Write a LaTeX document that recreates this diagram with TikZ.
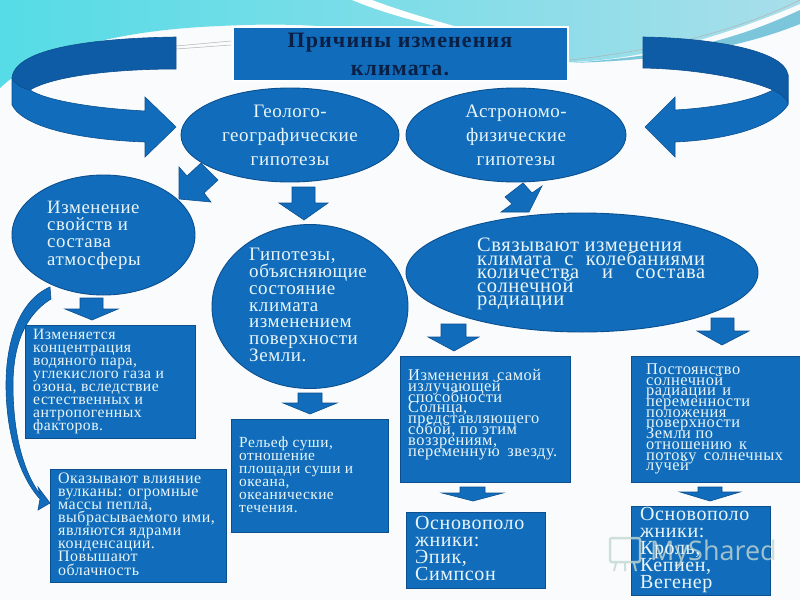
\documentclass[tikz,border=0pt]{standalone}
\usepackage{fontspec}
\setmainfont[LetterSpace=3]{Liberation Serif}
\newfontfamily\wmfont{Open Sans}
\usetikzlibrary{shapes.geometric}
\definecolor{fillblue}{HTML}{116DBB}
\definecolor{edgeblue}{HTML}{0B4F8F}
\definecolor{darkband}{HTML}{0E5CA6}
\definecolor{txt}{HTML}{E9F5F8}
\definecolor{titletxt}{HTML}{0A1F45}
\definecolor{paper}{HTML}{F9FBFC}
\definecolor{skyl}{HTML}{55DCE6}
\definecolor{skym}{HTML}{85BBCB}
\definecolor{skyr}{HTML}{A8DEEA}
\definecolor{streak}{HTML}{7CC6DC}
\definecolor{wmark}{HTML}{C4D8D2}
\tikzset{
  x=1pt,y=-1pt,
  blob/.style={ellipse,draw=edgeblue,line width=0.9pt,fill=fillblue,inner sep=0pt},
  panel/.style={rectangle,draw=edgeblue,line width=0.9pt,fill=fillblue,inner sep=0pt},
  blockarrow/.style={draw=edgeblue,line width=0.6pt,fill=fillblue,line join=miter},
  band/.style={draw=edgeblue,line width=0.6pt,fill=darkband},
  textblock/.style={text=txt,inner sep=0pt,anchor=west,align=left},
  centerblock/.style={text=txt,inner sep=0pt,align=center},
}
\newcommand{\fs}[2]{\fontsize{#1}{#2}\selectfont\lineskiplimit=-100pt\relax}
\newcommand{\jl}[2]{\makebox[#1pt][s]{#2}}
\begin{document}
\begin{tikzpicture}
\useasboundingbox (0,0) rectangle (800,600);
% background
\fill[paper] (0,0) rectangle (800,600);
\shade[left color=skyl,middle color=skym,right color=skyr]
  (0,0) -- (800,0) -- (800,4) .. controls (720,38) and (640,60) .. (570,62)
  .. controls (520,62) and (440,45) .. (360,30)
  .. controls (300,22) and (240,25) .. (220,26)
  .. controls (120,30) and (40,50) .. (0,88) -- cycle;
\fill[white] (352,0) -- (372,0) .. controls (420,18) and (470,30) .. (520,44) .. controls (460,32) and (400,20) .. (352,0) -- cycle;
\fill[streak] (800,10) .. controls (740,38) and (680,55) .. (570,63) .. controls (670,60) and (740,48) .. (800,24) -- cycle;
\draw[gray!60,line width=0.5pt] (176,46) -- (231,41);
\draw[gray!60,line width=0.5pt] (176,49) -- (231,45);
\draw[gray!60,line width=0.5pt] (570,60) .. controls (660,50) and (740,30) .. (800,0);
% ribbons
\path[band,fill=fillblue] (12,78) -- (12,105) .. controls (25,130) and (90,140) .. (145,142)
  -- (145,157) -- (176,127) -- (145,97) -- (145,111) .. controls (90,108) and (45,100) .. (30,90) -- cycle;
\path[band] (176,37) .. controls (110,38) and (15,45) .. (12,78) .. controls (15,85) and (22,88) .. (30,90)
  .. controls (55,75) and (120,69) .. (176,69) -- cycle;
\path[band,fill=fillblue] (788,75) -- (788,105) .. controls (770,130) and (720,140) .. (675,142)
  -- (675,157) -- (645,127) -- (675,97) -- (675,110) .. controls (710,108) and (750,102) .. (773,90) -- cycle;
\path[band] (643,37) .. controls (710,38) and (785,50) .. (788,75) -- (788,103) .. controls (786,98) and (780,93) .. (773,90)
  .. controls (745,78) and (695,69) .. (643,68) -- cycle;
% block arrows
\path[blockarrow] (201,163) -- (218,180) -- (204,193) -- (211,202) -- (179,199) -- (179,167) -- (187,176) -- cycle;
\path[blockarrow] (292,187) -- (315,187) -- (315,203) -- (328,203) -- (304,220) -- (279,203) -- (292,203) -- cycle;
\path[blockarrow] (523,183) -- (532,193) -- (542,186) -- (529,212) -- (501,212) -- (512,204) -- (505,197) -- cycle;
\path[blockarrow] (80,298) -- (103,298) -- (103,309) -- (118,309) -- (92,320) -- (65,309) -- (80,309) -- cycle;
\path[blockarrow] (298,393) -- (322,393) -- (322,403) -- (337,403) -- (310,414) -- (283,403) -- (298,403) -- cycle;
\path[blockarrow] (441,324) -- (466,324) -- (466,337) -- (479,337) -- (454,351) -- (428,337) -- (441,337) -- cycle;
\path[blockarrow] (711,318) -- (734,318) -- (734,331) -- (749,331) -- (722,345) -- (697,331) -- (711,331) -- cycle;
\path[blockarrow] (460,487) -- (485,487) -- (485,493) -- (503,493) -- (473,501) -- (442,493) -- (460,493) -- cycle;
\path[blockarrow] (698,487) -- (722,487) -- (722,492) -- (740,492) -- (710,501) -- (680,492) -- (698,492) -- cycle;
% curved arrow
\path[blockarrow] (50,287) .. controls (20,300) and (6,340) .. (6,385) .. controls (6,430) and (18,475) .. (40,499)
  -- (38,510) -- (50,503) -- (38,487) -- (40,494) .. controls (22,470) and (13,430) .. (13,385)
  .. controls (13,345) and (25,315) .. (51,299) -- cycle;
% title
\node[rectangle,draw=white,line width=2pt,fill=fillblue,minimum width=335pt,minimum height=54pt,inner sep=0pt] (title) at (400.5,53.5) {};
\node[inner sep=0pt,align=center,text=titletxt,font=\bfseries\addfontfeatures{LetterSpace=5}\fs{22}{28}] (titletext) at (400,54) {Причины изменения\\климата.};
% ellipses
\node[blob,minimum width=218pt,minimum height=94pt] (geo) at (290,135) {};
\node[blob,minimum width=220pt,minimum height=94pt] (astro) at (516,135) {};
\node[blob,minimum width=183pt,minimum height=120pt] (atm) at (103.5,235) {};
\node[blob,minimum width=196pt,minimum height=164pt] (hyp) at (310,306.5) {};
\node[blob,minimum width=352pt,minimum height=119pt] (sol) at (582,272.5) {};
% boxes
\node[panel,minimum width=170pt,minimum height=113pt] (boxa) at (110,381.5) {};
\node[panel,minimum width=176pt,minimum height=113pt] (boxb) at (138,525.5) {};
\node[panel,minimum width=157pt,minimum height=113pt] (boxc) at (309.5,475.5) {};
\node[panel,minimum width=170pt,minimum height=126pt] (boxd) at (485,419) {};
\node[panel,minimum width=169pt,minimum height=126pt] (boxe) at (715.5,419) {};
\node[panel,minimum width=139pt,minimum height=76pt] (boxf) at (475.5,550) {};
\node[panel,minimum width=139pt,minimum height=89pt] (boxg) at (700.5,550.5) {};
% watermark
\node[inner sep=0pt,anchor=west,text=wmark,opacity=0.8,font=\wmfont\fs{27}{27}] (wm) at (650,553) {MyShared};
\draw[wmark,opacity=0.8,line width=2.5pt,rounded corners=2pt] (610,538) rectangle (640,562);
\draw[wmark,opacity=0.8,line width=2pt] (616,563) -- (614,571) (634,563) -- (636,571) (625,563) -- (625,571);
% texts
\node[centerblock,font=\fs{19}{24}] (geot) at (290,135) {Геолого-\\географические\\гипотезы};
\node[centerblock,font=\fs{19}{24}] (astrot) at (516,135) {Астрономо-\\физические\\гипотезы};
\node[textblock,font=\fs{18.8}{17.4}] (atmt) at (47,235) {Изменение\\свойств и\\состава\\атмосферы};
\node[textblock,font=\fs{19}{16.7}] (hypt) at (249,305) {Гипотезы,\\объясняющие\\состояние\\климата\\изменением\\поверхности\\Земли.};
\node[textblock,font=\fs{20.5}{13.5}] (solt) at (477,274) {Связывают изменения\\\jl{228}{климата с колебаниями}\\\jl{228}{количества и состава}\\солнечной\\радиации};
\node[textblock,font=\fs{15.7}{13.1}] (boxat) at (33,381.5) {Изменяется\\концентрация\\водяного пара,\\углекислого газа и\\озона, вследствие\\естественных и\\антропогенных\\факторов.};
\node[textblock,font=\fs{16}{13.1}] (boxbt) at (58,524) {Оказывают влияние\\вулканы: огромные\\массы пепла,\\выбрасываемого ими,\\являются ядрами\\конденсации.\\Повышают\\облачность};
\node[textblock,font=\fs{15.4}{13}] (boxct) at (239,474.5) {Рельеф суши,\\отношение\\площади суши и\\океана,\\океанические\\течения.};
\node[textblock,font=\fs{16.4}{10.8}] (boxdt) at (408,414.5) {\jl{133}{Изменения самой}\\излучающей\\способности\\Солнца,\\представляющего\\собой, по этим\\воззрениям,\\\jl{149}{переменную звезду.}};
\node[textblock,font=\fs{16.4}{10.7}] (boxet) at (646,419) {Постоянство\\солнечной\\\jl{85}{радиации и}\\переменности\\положения\\поверхности\\Земли по\\\jl{101}{отношению к}\\\jl{137}{потоку солнечных}\\лучей};
\node[textblock,font=\fs{20}{17}] (boxft) at (415,548.5) {Основополо\\жники:\\Эпик,\\Симпсон};
\node[textblock,font=\fs{20}{17}] (boxgt) at (640,550) {Основополо\\жники:\\Кроль,\\Кепиен,\\Вегенер};
\end{tikzpicture}
\end{document}
